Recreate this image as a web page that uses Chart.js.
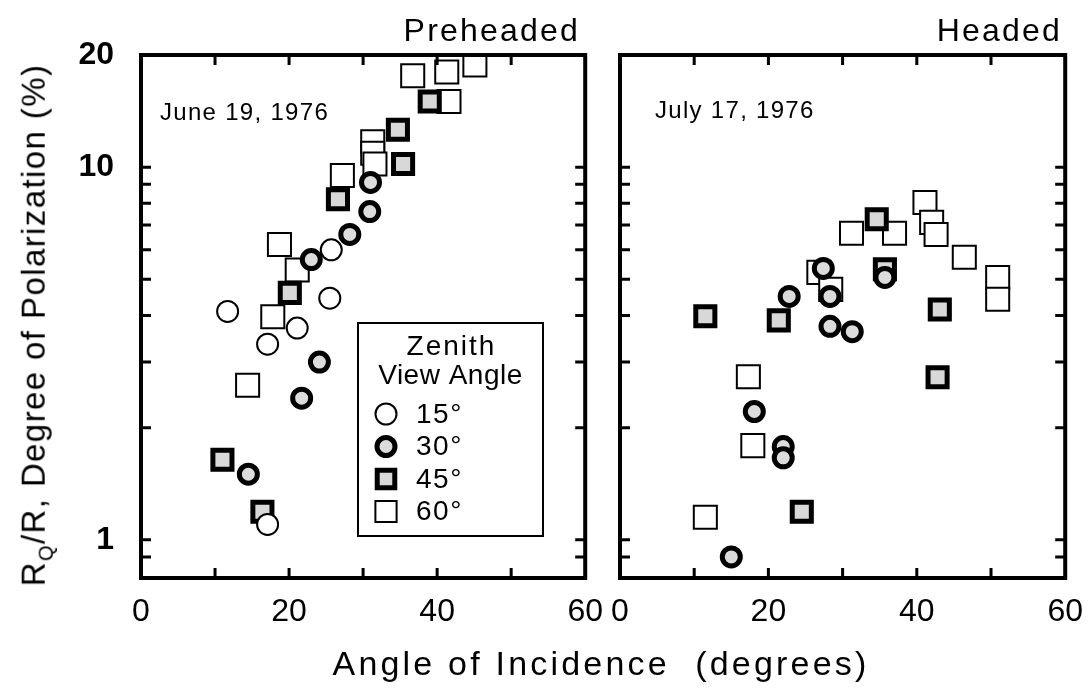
<!DOCTYPE html>
<html lang="en">
<head>
  <meta charset="UTF-8">
  <title>Degree of Polarization</title>
  <script src="https://cdn.jsdelivr.net/npm/chart.js@4.4.0/dist/chart.umd.min.js"></script>
  <style>
    body { margin: 0; background: #fff; }
    #wrap { position: relative; width: 1090px; height: 692px; overflow: hidden; font-family: "Liberation Sans", Arial, sans-serif; color: #000; }
    canvas { position: absolute; top: 0; }
    .txt { position: absolute; white-space: nowrap; line-height: 1; }
  </style>
</head>
<body>
<div id="wrap">
  <canvas id="pre" width="610" height="692" style="left:0"></canvas>
  <canvas id="post" width="510" height="692" style="left:580px"></canvas>
  <div class="txt" style="right:510px; top:14px; font-size:32px; letter-spacing:2.2px">Preheaded</div>
  <div class="txt" style="right:28px; top:14px; font-size:32px; letter-spacing:2.2px">Headed</div>
  <div class="txt" style="left:160px; top:100px; font-size:24px; letter-spacing:1.3px">June 19, 1976</div>
  <div class="txt" style="left:655px; top:98px; font-size:24px; letter-spacing:1.3px">July 17, 1976</div>
  <div class="txt" style="left:601px; top:646px; font-size:34px; letter-spacing:3.2px; transform: translateX(-50%)">Angle of Incidence&nbsp; (degrees)</div>
  <div class="txt" style="left:36px; top:325px; font-size:33px; transform: translate(-50%,-50%) rotate(-90deg); letter-spacing:1.4px">R<sub style="font-size:20px">Q</sub>/R, Degree of Polarization (%)</div>
</div>
<script>
  // Preheaded, June 19 1976
  const pre15 = [[11.7, 4.1], [17.1, 3.35], [21.1, 3.7], [25.5, 4.45], [25.7, 6.0], [17.1, 1.1]]
  const pre30 = [[14.5, 1.5], [21.7, 2.4], [24.1, 3.0], [23.0, 5.65], [28.2, 6.6], [30.9, 7.6], [31.0, 9.1]]
  const pre45 = [[11.0, 1.64], [16.4, 1.19], [20.1, 4.6], [26.6, 8.2], [34.7, 12.6], [35.4, 10.2], [39.0, 15.0]]
  const pre60 = [[14.4, 2.6], [17.8, 3.97], [18.7, 6.2], [21.1, 5.3], [27.2, 9.5], [31.3, 11.7], [31.3, 10.9],
                 [31.6, 10.2], [36.7, 17.6], [41.3, 18.0], [45.1, 18.8], [41.6, 15.0]]

  // Headed, July 17 1976
  const head15 = []
  const head30 = [[15.0, 0.9], [18.1, 2.21], [22.0, 1.78], [22.0, 1.66], [22.8, 4.5], [28.3, 4.5], [27.4, 5.35],
                  [28.3, 3.74], [31.3, 3.62], [35.7, 5.06]]
  const head45 = [[11.5, 3.98], [21.4, 3.88], [24.5, 1.19], [34.6, 7.25], [35.7, 5.32], [43.1, 4.15], [42.8, 2.73]]
  const head60 = [[11.5, 1.15], [17.3, 2.74], [17.9, 1.79], [26.8, 5.22], [28.4, 4.7], [31.2, 6.65], [37.0, 6.65],
                  [41.1, 8.04], [42.0, 7.11], [42.6, 6.6], [46.4, 5.73], [50.9, 5.06], [50.9, 4.42]]

  const zenithLabels = ['15°', '30°', '45°', '60°']
  const xTicks = [0, 10, 20, 30, 40, 50, 60]
  const xLabels = [0, 20, 40, 60]
  const yTicks = [0.9, 1, 2, 3, 4, 5, 6, 7, 8, 9, 10, 20]
  const yLabels = [1, 10, 20]

  const styles = [
    { pointStyle: 'circle', pointRadius: 10.5, pointBorderWidth: 2, pointBackgroundColor: '#fff' },
    { pointStyle: 'circle', pointRadius: 9, pointBorderWidth: 5, pointBackgroundColor: '#dcdcdc' },
    { pointStyle: 'rect', pointRadius: 13.5, pointBorderWidth: 5, pointBackgroundColor: '#d8d8d8' },
    { pointStyle: 'rect', pointRadius: 16.3, pointBorderWidth: 2, pointBackgroundColor: '#fff' }
  ]

  function toXY(arr) {
    return arr.map(p => ({ x: p[0], y: p[1] }))
  }

  // box around the plot plus inward tick marks on all four sides
  const framePlugin = {
    id: 'frame',
    afterDraw(chart) {
      const ctx = chart.ctx
      const a = chart.chartArea
      const xs = chart.scales.x, ys = chart.scales.y
      ctx.save()
      ctx.strokeStyle = '#000'
      ctx.lineWidth = 3
      ctx.beginPath()
      xs.ticks.forEach(t => {
        const px = xs.getPixelForValue(t.value)
        if (px <= a.left + 2 || px >= a.right - 2) return
        ctx.moveTo(px, a.bottom); ctx.lineTo(px, a.bottom - 10)
        ctx.moveTo(px, a.top); ctx.lineTo(px, a.top + 10)
      })
      ys.ticks.forEach(t => {
        const py = ys.getPixelForValue(t.value)
        if (py <= a.top + 2 || py >= a.bottom - 2) return
        ctx.moveTo(a.left, py); ctx.lineTo(a.left + 10, py)
        ctx.moveTo(a.right, py); ctx.lineTo(a.right - 10, py)
      })
      ctx.stroke()
      ctx.lineWidth = 4
      ctx.strokeRect(a.left, a.top, a.right - a.left, a.bottom - a.top)
      ctx.restore()
    }
  }

  // the "Zenith View Angle" key box in the left panel
  const keyPlugin = {
    id: 'key',
    afterDraw(chart, args, opts) {
      if (!opts.show) return
      const ctx = chart.ctx
      const bx = 358, by = 323, bw = 185, bh = 213
      ctx.save()
      ctx.fillStyle = '#fff'
      ctx.fillRect(bx, by, bw, bh)
      ctx.strokeStyle = '#000'
      ctx.lineWidth = 2
      ctx.strokeRect(bx, by, bw, bh)
      ctx.fillStyle = '#000'
      ctx.textAlign = 'center'
      ctx.textBaseline = 'middle'
      ctx.font = '28px "Liberation Sans", Arial, sans-serif'
      ctx.letterSpacing = '2px'
      ctx.fillText('Zenith', bx + bw / 2 + 1, by + 24)
      ctx.letterSpacing = '0.5px'
      ctx.fillText('View Angle', bx + bw / 2, by + 53)
      ctx.textAlign = 'left'
      ctx.letterSpacing = '1.5px'
      zenithLabels.forEach((lab, i) => {
        const y = by + 91 + i * 32.5
        const st = styles[i]
        ctx.fillStyle = st.pointBackgroundColor
        ctx.strokeStyle = '#000'
        ctx.lineWidth = st.pointBorderWidth
        Chart.helpers.drawPoint(ctx, {
          pointStyle: st.pointStyle, rotation: 0,
          radius: st.pointStyle === 'circle' ? st.pointRadius : st.pointRadius * 0.92,
          borderWidth: st.pointBorderWidth
        }, bx + 28, y)
        ctx.fillStyle = '#000'
        ctx.fillText(lab, bx + 58, y + 1)
      })
      ctx.restore()
    }
  }

  function makeChart(id, sets, opt) {
    const ctx = document.getElementById(id).getContext('2d')
    return new Chart(ctx, {
      type: 'scatter',
      data: {
        datasets: sets.map((s, i) => Object.assign({
          label: zenithLabels[i],
          data: toXY(s),
          borderColor: '#000',
          pointBorderColor: '#000'
        }, styles[i]))
      },
      options: {
        responsive: false,
        animation: false,
        layout: { padding: { left: 0, top: 55, right: opt.padRight, bottom: 0 } },
        plugins: {
          legend: { display: false },
          tooltip: { enabled: false },
          key: { show: opt.key }
        },
        scales: {
          x: {
            type: 'linear', min: 0, max: 60,
            afterBuildTicks: s => { s.ticks = xTicks.map(v => ({ value: v })) },
            afterFit: s => { s.height = 114 },
            grid: { display: false },
            border: { display: false },
            ticks: {
              padding: 7, color: '#000',
              font: { family: '"Liberation Sans", Arial, sans-serif', size: 32 },
              callback: v => xLabels.includes(v) ? String(v) : ''
            }
          },
          y: {
            type: 'logarithmic', min: 0.79, max: 20,
            afterBuildTicks: s => { s.ticks = yTicks.map(v => ({ value: v })) },
            afterFit: s => { s.width = opt.yWidth },
            grid: { display: false },
            border: { display: false },
            ticks: {
              display: opt.yLabels, padding: 19, color: '#000',
              font: { family: '"Liberation Sans", Arial, sans-serif', size: 32, weight: 'bold' },
              callback: v => yLabels.includes(v) ? String(v) : ''
            }
          }
        }
      },
      plugins: [framePlugin, keyPlugin]
    })
  }

  makeChart('pre', [pre15, pre30, pre45, pre60], { padRight: 17, yWidth: 141, yLabels: true, key: true })
  makeChart('post', [head15, head30, head45, head60], { padRight: 21, yWidth: 40, yLabels: false, key: false })
</script>
</body>
</html>
